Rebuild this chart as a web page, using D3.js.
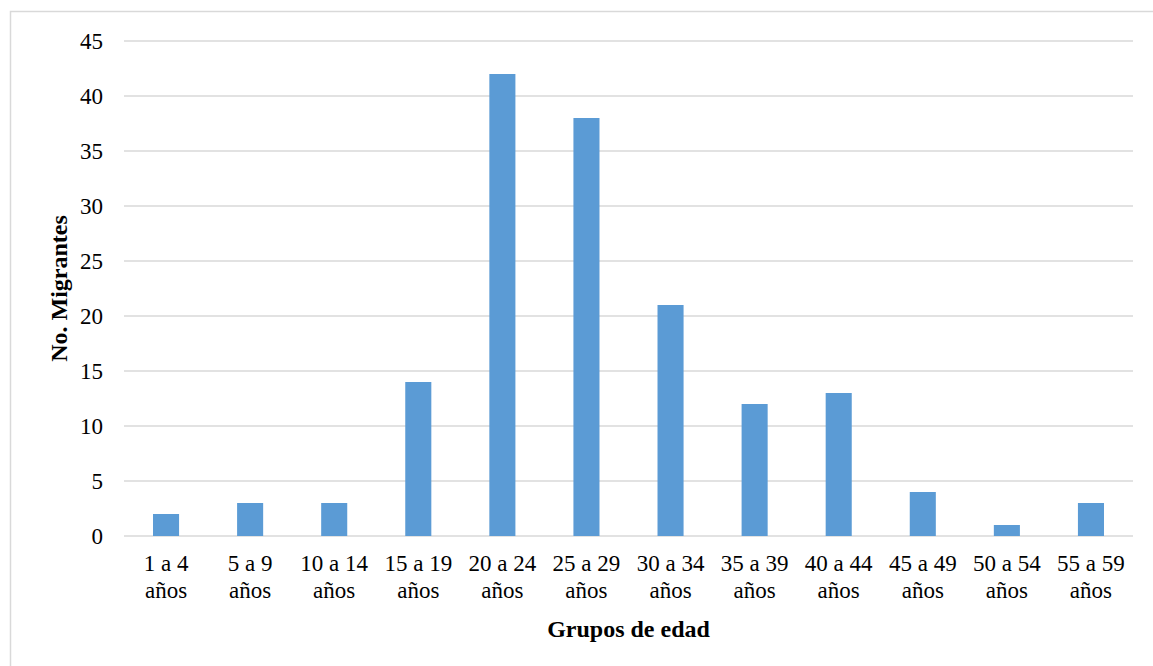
<!DOCTYPE html>
<html>
<head>
<meta charset="utf-8">
<script src="https://cdn.jsdelivr.net/npm/d3@7"></script>
<style>
  body { margin: 0; background: #fff; }
  text { font-family: "Liberation Serif", "Times New Roman", serif; fill: #000; }
</style>
</head>
<body>
<div id="chart"></div>
<script>
// Data.
const GROUPS = ["1 a 4", "5 a 9", "10 a 14", "15 a 19", "20 a 24", "25 a 29",
                "30 a 34", "35 a 39", "40 a 44", "45 a 49", "50 a 54", "55 a 59"];
const MIGRANTES = [2, 3, 3, 14, 42, 38, 21, 12, 13, 4, 1, 3];
const Y_TICKS = [0, 5, 10, 15, 20, 25, 30, 35, 40, 45];

const WIDTH = 1153;
const HEIGHT = 666;
const PLOT = {'left': 124, 'right': 1133, 'top': 41, 'bottom': 536};
const FONT = "23px";
const TITLE_FONT = "24px";

window.onload = function() {

    var svg = d3.select("#chart").append("svg")
                .attr("width", WIDTH)
                .attr("height", HEIGHT);

    // outer frame (right and bottom edges fall off the picture)
    svg.append("rect")
       .attr("x", 10.5).attr("y", 11.5)
       .attr("width", WIDTH).attr("height", HEIGHT)
       .attr("fill", "none")
       .attr("stroke", "#d9d9d9")
       .attr("stroke-width", 1.5);

    var x = d3.scaleBand()
              .domain(GROUPS)
              .range([PLOT.left, PLOT.right])
              .paddingInner(0.69)
              .paddingOuter(0.345);

    var y = d3.scaleLinear()
              .domain([0, 45])
              .range([PLOT.bottom, PLOT.top]);

    // gridlines
    svg.append("g").selectAll("line")
       .data(Y_TICKS)
       .enter()
       .append("line")
       .attr("x1", PLOT.left).attr("x2", PLOT.right)
       .attr("y1", d => y(d)).attr("y2", d => y(d))
       .attr("stroke", "#d9d9d9")
       .attr("stroke-width", 1.5);

    // y tick labels
    var yAxis = svg.append("g")
                   .attr("transform", "translate(" + PLOT.left + ",0)")
                   .call(d3.axisLeft(y).tickValues(Y_TICKS).tickSize(0).tickPadding(21));
    yAxis.select(".domain").remove();
    yAxis.selectAll("text")
         .attr("font-size", FONT)
         .style("font-family", "'Liberation Serif', serif")
         .attr("fill", "#000");

    // bars
    svg.append("g").selectAll("rect")
       .data(MIGRANTES)
       .enter()
       .append("rect")
       .attr("x", (d, i) => x(GROUPS[i]))
       .attr("y", d => y(d))
       .attr("width", x.bandwidth())
       .attr("height", d => y(0) - y(d))
       .attr("fill", "#5b9bd5");

    // x labels, two lines each
    var xl = svg.append("g").selectAll("text")
                .data(GROUPS)
                .enter()
                .append("text")
                .attr("text-anchor", "middle")
                .attr("font-size", FONT)
                .attr("x", d => x(d) + x.bandwidth() / 2)
                .attr("y", 571);
    xl.append("tspan").text(d => d);
    xl.append("tspan")
      .attr("x", d => x(d) + x.bandwidth() / 2)
      .attr("dy", 27)
      .text("años");

    // axis titles
    svg.append("text")
       .attr("x", (PLOT.left + PLOT.right) / 2)
       .attr("y", 637)
       .attr("text-anchor", "middle")
       .attr("font-size", TITLE_FONT)
       .attr("font-weight", "bold")
       .text("Grupos de edad");

    svg.append("text")
       .attr("transform", "translate(67," + ((PLOT.top + PLOT.bottom) / 2) + ") rotate(-90)")
       .attr("text-anchor", "middle")
       .attr("font-size", TITLE_FONT)
       .attr("font-weight", "bold")
       .text("No. Migrantes");
};
</script>
</body>
</html>
